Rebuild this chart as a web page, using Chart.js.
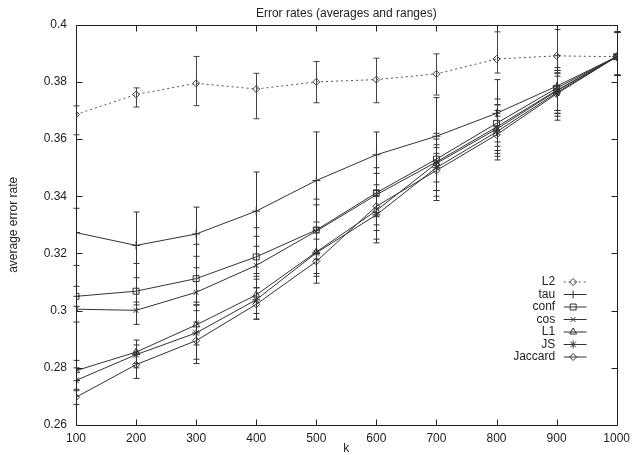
<!DOCTYPE html>
<html><head><meta charset="utf-8">
<script src="https://cdn.jsdelivr.net/npm/chart.js@4/dist/chart.umd.min.js"></script>
<style>html,body{margin:0;padding:0;background:#fff}#wrap{width:636px;height:455px}</style>
</head><body><div id="wrap"><canvas id="c" width="636" height="455"></canvas></div>
<script>
const kValues = [100, 200, 300, 400, 500, 600, 700, 800, 900, 1000];
const yTickValues = [0.26, 0.28, 0.30, 0.32, 0.34, 0.36, 0.38, 0.40];
const seriesNames = ['L2', 'tau', 'conf', 'cos', 'L1', 'JS', 'Jaccard'];

const l2Mean = [0.3686, 0.3756, 0.3795, 0.3775, 0.3800, 0.3808, 0.3828, 0.3880, 0.3891, 0.3888];
const l2Low  = [0.3615, 0.3712, 0.3717, 0.3671, 0.3727, 0.3727, 0.3754, 0.3831, 0.3832, 0.3823];
const l2High = [0.3716, 0.3779, 0.3889, 0.3830, 0.3871, 0.3883, 0.3898, 0.3975, 0.3983, 0.3974];

const tauMean = [0.3273, 0.3228, 0.3268, 0.3348, 0.3455, 0.3545, 0.3610, 0.3690, 0.3785, 0.3888];
const tauLow  = [0.3158, 0.3115, 0.3150, 0.3225, 0.3310, 0.3420, 0.3515, 0.3590, 0.3700, 0.3823];
const tauHigh = [0.3358, 0.3345, 0.3362, 0.3485, 0.3625, 0.3625, 0.3745, 0.3808, 0.3893, 0.3974];

const confMean = [0.3050, 0.3068, 0.3112, 0.3188, 0.3282, 0.3412, 0.3530, 0.3655, 0.3778, 0.3888];
const confLow  = [0.3015, 0.3020, 0.3030, 0.3120, 0.3200, 0.3330, 0.3450, 0.3575, 0.3700, 0.3823];
const confHigh = [0.3085, 0.3165, 0.3232, 0.3290, 0.3390, 0.3500, 0.3620, 0.3740, 0.3850, 0.3974];

const cosMean = [0.3005, 0.3001, 0.3064, 0.3158, 0.3278, 0.3405, 0.3520, 0.3642, 0.3770, 0.3888];
const cosLow  = [0.2960, 0.2952, 0.3020, 0.3080, 0.3180, 0.3300, 0.3420, 0.3560, 0.3690, 0.3823];
const cosHigh = [0.3050, 0.3030, 0.3190, 0.3260, 0.3370, 0.3480, 0.3600, 0.3720, 0.3830, 0.3974];

const l1Mean = [0.2790, 0.2855, 0.2950, 0.3055, 0.3205, 0.3350, 0.3515, 0.3635, 0.3768, 0.3888];
const l1Low  = [0.2755, 0.2815, 0.2880, 0.2990, 0.3130, 0.3280, 0.3420, 0.3550, 0.3690, 0.3823];
const l1High = [0.2826, 0.2897, 0.3020, 0.3130, 0.3280, 0.3440, 0.3580, 0.3720, 0.3840, 0.3974];

const jsMean = [0.2756, 0.2846, 0.2922, 0.3038, 0.3202, 0.3335, 0.3500, 0.3625, 0.3762, 0.3888];
const jsLow  = [0.2725, 0.2800, 0.2830, 0.2970, 0.3096, 0.3250, 0.3400, 0.3540, 0.3680, 0.3823];
const jsHigh = [0.2800, 0.2880, 0.3000, 0.3110, 0.3290, 0.3420, 0.3570, 0.3700, 0.3840, 0.3974];

const jaccardMean = [0.2697, 0.2811, 0.2895, 0.3022, 0.3172, 0.3365, 0.3490, 0.3615, 0.3758, 0.3888];
const jaccardLow  = [0.2672, 0.2763, 0.2815, 0.2970, 0.3120, 0.3237, 0.3385, 0.3527, 0.3666, 0.3823];
const jaccardHigh = [0.2720, 0.2855, 0.2960, 0.3080, 0.3250, 0.3400, 0.3550, 0.3680, 0.3820, 0.3974];

const means = [l2Mean, tauMean, confMean, cosMean, l1Mean, jsMean, jaccardMean];
const lows  = [l2Low, tauLow, confLow, cosLow, l1Low, jsLow, jaccardLow];
const highs = [l2High, tauHigh, confHigh, cosHigh, l1High, jsHigh, jaccardHigh];
const markers = ['rectRot', 'cross', 'rect', 'crossRot', 'triangle', 'star', 'rectRot'];
const markerRadius = [3.5, 4, 4.2, 3.5, 4, 4, 3.5];

const FONT = "'Liberation Sans', Arial, Helvetica, sans-serif";
const INK = '#222';
const LINE = '#333';

Chart.defaults.font.family = FONT;
Chart.defaults.font.size = 12;
Chart.defaults.color = INK;

const datasets = seriesNames.map((name, i) => ({
  label: name,
  data: kValues.map((k, j) => ({x: k, y: means[i][j]})),
  borderColor: i === 0 ? '#555' : LINE,
  borderWidth: 1,
  borderDash: i === 0 ? [2, 3] : [],
  pointStyle: markers[i],
  pointRadius: markerRadius[i],
  pointBorderColor: i === 0 ? '#444' : LINE,
  pointBackgroundColor: 'rgba(255,255,255,0)',
  pointBorderWidth: 1,
  tension: 0,
  fill: false,
  lows: lows[i],
  highs: highs[i]
}));

function drawMarker(ctx, style, x, y, r) {
  ctx.beginPath();
  switch (style) {
    case 'rectRot':
      ctx.moveTo(x, y - r); ctx.lineTo(x + r, y); ctx.lineTo(x, y + r); ctx.lineTo(x - r, y); ctx.closePath(); break;
    case 'rect': {
      const h = r * Math.SQRT1_2;
      ctx.rect(x - h, y - h, 2 * h, 2 * h); break;
    }
    case 'cross':
      ctx.moveTo(x - r, y); ctx.lineTo(x + r, y); ctx.moveTo(x, y - r); ctx.lineTo(x, y + r); break;
    case 'crossRot': {
      const h = r * Math.SQRT1_2;
      ctx.moveTo(x - h, y - h); ctx.lineTo(x + h, y + h); ctx.moveTo(x - h, y + h); ctx.lineTo(x + h, y - h); break;
    }
    case 'triangle': {
      const h = r * 0.866;
      ctx.moveTo(x, y - r); ctx.lineTo(x + h, y + r / 2); ctx.lineTo(x - h, y + r / 2); ctx.closePath(); break;
    }
    case 'star': {
      const h = r * Math.SQRT1_2;
      ctx.moveTo(x - r, y); ctx.lineTo(x + r, y); ctx.moveTo(x, y - r); ctx.lineTo(x, y + r);
      ctx.moveTo(x - h, y - h); ctx.lineTo(x + h, y + h); ctx.moveTo(x - h, y + h); ctx.lineTo(x + h, y - h); break;
    }
  }
  ctx.stroke();
}

const gnuplotLook = {
  id: 'gnuplotLook',
  beforeDatasetsDraw(chart) {
    const {ctx, scales: {y}} = chart;
    ctx.save();
    // error bars (ranges)
    chart.data.datasets.forEach((ds, i) => {
      const meta = chart.getDatasetMeta(i);
      ctx.strokeStyle = i === 0 ? '#444' : LINE;
      ctx.lineWidth = 1;
      ctx.setLineDash([]);
      meta.data.forEach((pt, j) => {
        const px = Math.round(pt.x) + 0.5;
        const yl = y.getPixelForValue(ds.lows[j]);
        const yh = y.getPixelForValue(ds.highs[j]);
        ctx.beginPath();
        ctx.moveTo(px, yl); ctx.lineTo(px, yh);
        ctx.moveTo(px - 3, yl); ctx.lineTo(px + 3, yl);
        ctx.moveTo(px - 3, yh); ctx.lineTo(px + 3, yh);
        ctx.stroke();
      });
    });
    ctx.restore();
  },
  afterDraw(chart) {
    const {ctx, chartArea: a, scales: {x, y}} = chart;
    ctx.save();
    ctx.strokeStyle = '#222';
    ctx.lineWidth = 1;
    ctx.setLineDash([]);
    const L = Math.round(a.left) + 0.5, R = Math.round(a.right) + 0.5;
    const T = Math.round(a.top) + 0.5, B = Math.round(a.bottom) + 0.5;
    ctx.strokeRect(L, T, R - L, B - T);
    ctx.beginPath();
    kValues.forEach(k => {
      const px = Math.round(x.getPixelForValue(k)) + 0.5;
      ctx.moveTo(px, B); ctx.lineTo(px, B - 6);
      ctx.moveTo(px, T); ctx.lineTo(px, T + 6);
    });
    yTickValues.forEach(v => {
      const py = Math.round(y.getPixelForValue(v)) + 0.5;
      ctx.moveTo(L, py); ctx.lineTo(L + 6, py);
      ctx.moveTo(R, py); ctx.lineTo(R - 6, py);
    });
    ctx.stroke();

    // legend (gnuplot style: text right-aligned, sample to the right)
    ctx.font = '12px ' + FONT;
    ctx.fillStyle = INK;
    ctx.textAlign = 'right';
    ctx.textBaseline = 'middle';
    const textRight = a.right - 61.5;
    const sx0 = a.right - 53, sx1 = a.right - 30;
    chart.data.datasets.forEach((ds, i) => {
      const ry = a.bottom - 143 + i * 12.5;
      ctx.fillText(ds.label, textRight, ry);
      ctx.strokeStyle = ds.borderColor;
      ctx.setLineDash(ds.borderDash);
      ctx.beginPath(); ctx.moveTo(sx0, ry); ctx.lineTo(sx1, ry); ctx.stroke();
      ctx.setLineDash([]);
      ctx.strokeStyle = ds.pointBorderColor;
      drawMarker(ctx, ds.pointStyle, (sx0 + sx1) / 2 - 2, ry, ds.pointRadius);
    });
    ctx.restore();
  }
};

new Chart(document.getElementById('c'), {
  type: 'line',
  data: {datasets},
  options: {
    responsive: false,
    animation: false,
    devicePixelRatio: 1,
    layout: {padding: {left: 0, right: 14.5, top: 0, bottom: 0}},
    plugins: {
      legend: {display: false},
      tooltip: {enabled: false},
      title: {
        display: true,
        text: 'Error rates (averages and ranges)',
        fullSize: false,
        font: {size: 12, weight: 'normal', family: FONT},
        color: INK,
        padding: {top: 6, bottom: 4.3}
      }
    },
    scales: {
      x: {
        type: 'linear',
        min: 100, max: 1000,
        afterBuildTicks: s => { s.ticks = kValues.map(v => ({value: v})); },
        afterFit: s => { s.height = 30; },
        grid: {display: false, drawTicks: false},
        border: {display: false},
        ticks: {padding: 6, maxRotation: 0, autoSkip: false, color: INK, font: {size: 12}, callback: v => String(v)},
        title: {display: true, text: 'k', color: INK, font: {size: 12, lineHeight: 1}, padding: 0}
      },
      y: {
        type: 'linear',
        min: 0.26, max: 0.4,
        afterBuildTicks: s => { s.ticks = yTickValues.map(v => ({value: v})); },
        afterFit: s => { s.width = 76; },
        grid: {display: false, drawTicks: false},
        border: {display: false},
        ticks: {padding: 9, color: INK, font: {size: 12}, callback: v => String(+(+v).toFixed(2))},
        title: {display: true, text: 'average error rate', color: INK, font: {size: 12}, padding: {top: 6, bottom: 0}}
      }
    }
  },
  plugins: [gnuplotLook]
});
</script></body></html>
